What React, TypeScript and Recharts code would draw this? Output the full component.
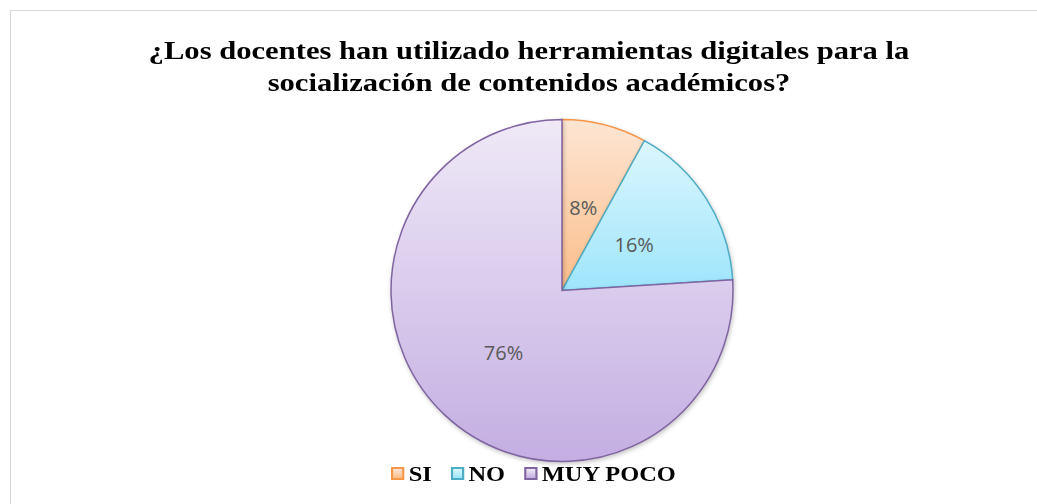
import React from 'react'
import { PieChart, Pie, Cell, Legend } from 'recharts'

const categories = ['SI', 'NO', 'MUY POCO']
const values = [8, 16, 76]
const strokes = ['#f79646', '#4bacc6', '#8064a2']
const gradTop = ['#fde6d4', '#dcf6fd', '#efe9f7']
const gradBottom = ['#fbbd8a', '#9ee5fb', '#c4aee2']

const data = categories.map((name, i) => ({ name, value: values[i] }))

const RAD = Math.PI / 180

function renderLabel(p: any) {
  const { cx, cy, midAngle, outerRadius, percent } = p
  const r = outerRadius * 0.5
  const x = cx + r * Math.cos(-midAngle * RAD)
  const y = cy + r * Math.sin(-midAngle * RAD)
  return (
    <text x={x} y={y} textAnchor="middle" dominantBaseline="central" stroke="none"
      fill="#595959" fontSize={20} fontFamily="'Open Sans', sans-serif">
      {Math.round(percent * 100)}%
    </text>
  )
}

function renderLegend() {
  return (
    <div style={{ display: 'flex', alignItems: 'center', marginLeft: 380, transform: 'scaleX(1.11)', transformOrigin: 'left center', fontFamily: "'Liberation Serif', 'Times New Roman', serif", fontWeight: 'bold', fontSize: 22, lineHeight: '28px', color: '#000' }}>
      {categories.map((c, i) => (
        <div key={c} style={{ display: 'flex', alignItems: 'center', marginRight: 17 }}>
          <span style={{ width: 8, height: 9, border: `2px solid ${strokes[i]}`, background: `linear-gradient(${gradTop[i]}, ${gradBottom[i]})`, marginRight: 4, display: 'inline-block' }} />
          <span>{c}</span>
        </div>
      ))}
    </div>
  )
}

export default function App() {
  return (
    <div style={{ position: 'absolute', left: 10, top: 10, width: 1027, height: 494, boxSizing: 'border-box', borderTop: '1px solid #d9d9d9', borderLeft: '1px solid #d9d9d9', background: '#fff' }}>
      <style>{`.recharts-pie-sector path { filter: drop-shadow(1px 2px 2px rgba(0,0,0,0.22)); }`}</style>
      <div style={{ position: 'absolute', left: -10, top: 24.4, width: 1056, textAlign: 'center', transform: 'scaleX(1.2)', transformOrigin: '528px 0', fontFamily: "'Liberation Serif', 'Times New Roman', serif", fontWeight: 'bold', fontSize: 25.5, lineHeight: '32px', color: '#000' }}>
        ¿Los docentes han utilizado herramientas digitales para la<br />
        socialización de contenidos académicos?
      </div>
      <PieChart width={1026} height={493}>
        <defs>
          {categories.map((c, i) => (
            <linearGradient key={c} id={`g${i}`} x1="0" y1="0" x2="0" y2="1">
              <stop offset="0%" stopColor={gradTop[i]} />
              <stop offset="100%" stopColor={gradBottom[i]} />
            </linearGradient>
          ))}
        </defs>
        <Pie data={data} dataKey="value" nameKey="name" cx={546} cy={274.5} outerRadius={171}
          startAngle={90} endAngle={-270} label={renderLabel} labelLine={false}
          isAnimationActive={false} strokeWidth={1.5}>
          {data.map((d, i) => (
            <Cell key={d.name} fill={`url(#g${i})`} stroke={strokes[i]} />
          ))}
        </Pie>
        <Legend content={renderLegend} wrapperStyle={{ position: 'absolute', top: 448.6, left: 0, width: 1026 }} />
      </PieChart>
    </div>
  )
}
